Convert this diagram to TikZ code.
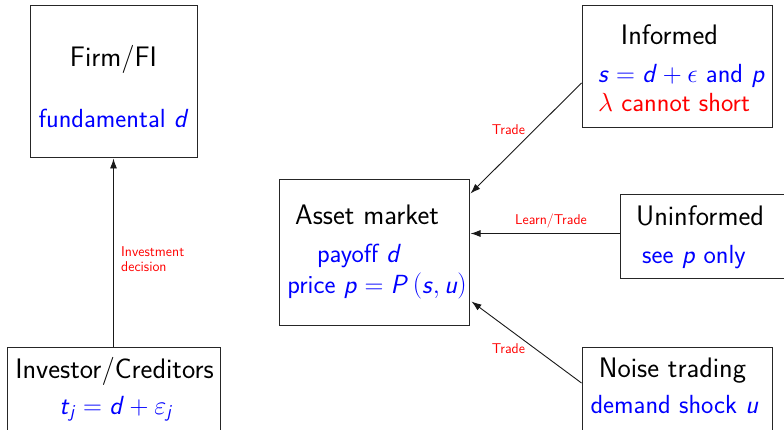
\RequirePackage{fix-cm}
\documentclass[tikz,border=0pt]{standalone}
\usepackage{amsmath}
\usepackage{fontspec}
\usetikzlibrary{arrows.meta,calc}
% sans-serif italic letters for variables
\newcommand{\sv}[1]{\textsf{\textit{#1}}}
\tikzset{
  box/.style={draw=black!85, line width=1pt, rectangle, inner sep=0pt},
  head/.style={font=\sffamily\fontsize{28.2}{32}\selectfont, anchor=base, inner sep=0pt},
  info/.style={font=\sffamily\fontsize{26.2}{30}\selectfont, text=blue, anchor=base, inner sep=0pt},
  warn/.style={info, text=red},
  tag/.style={font=\sffamily\fontsize{14.2}{15}\selectfont, text=red, inner sep=0pt},
  link/.style={draw=black!90, line width=0.9pt, -{Latex[length=10pt,width=7pt]}},
}
\begin{document}
\begin{tikzpicture}[x=1pt,y=-1pt]
\useasboundingbox (0,0) rectangle (784,430);
\clip (0,0) rectangle (784,430);

% boxes
\node[box, minimum width=167pt, minimum height=152pt] (firm) at (113.5,82) {};
\node[box, minimum width=213pt, minimum height=98pt] (inv) at (113.5,396) {};
\node[box, minimum width=190pt, minimum height=145pt] (market) at (374,252.5) {};
\node[box, minimum width=190pt, minimum height=122pt] (informed) at (677,67) {};
\node[box, minimum width=190pt, minimum height=84pt] (uninf) at (715,237) {};
\node[box, minimum width=190pt, minimum height=98pt] (noise) at (677,396) {};

% box texts
\node[head] (firmT) at (113.5,67) {Firm/FI};
\node[info] (firmD) at (113.5,128) {fundamental $\sv{d}$};

\node[head] (invT) at (114.5,378) {Investor/Creditors};
\node[info] (invD) at (116,414) {$\sv{t}_{\sv{j}}=\sv{d}+\varepsilon_{\sv{j}}$};

\node[head] (mktT) at (367,225) {Asset market};
\node[info] (mktD) at (359,263) {payoff $\sv{d}$};
\node[info] (mktP) at (377,293) {price $\sv{p}=\sv{P}\left(\sv{s},\sv{u}\right)$};

\node[head] (infT) at (669.5,45) {Informed};
\node[info, anchor=base west] (infS) at (598,83) {$\sv{s}=\sv{d}+\epsilon$ and $\sv{p}$};
\node[warn, anchor=base west] (infL) at (598,112) {$\lambda$ cannot short};

\node[head] (unT) at (700,226) {Uninformed};
\node[info] (unD) at (694,264) {see $\sv{p}$ only};

\node[head] (noT) at (672.5,377) {Noise trading};
\node[info] (noD) at (674.5,413) {demand shock $\sv{u}$};

% connectors
\draw[link] (inv.north) -- (firm.south);

\coordinate (infOut) at ($(informed.west)+(0,16)$);
\coordinate (mktIn1) at ($(market.north east)+(1,14)$);
\draw[link] (infOut) -- (mktIn1);

\coordinate (unOut) at ($(uninf.west)+(0,-3.5)$);
\coordinate (mktIn2) at ($(market.east)+(1,-19)$);
\draw[link] (unOut) -- (mktIn2);

\coordinate (noOut) at ($(noise.west)+(0,-13)$);
\coordinate (mktIn3) at ($(market.south east)+(2,-24)$);
\draw[link] (noOut) -- (mktIn3);

% connector labels
\node[tag, anchor=base west, align=left] (tagInv) at (121,272) {Investment\\decision};
\node[tag, anchor=base] (tagInf) at (508.5,135) {Trade};
\node[tag, anchor=base] (tagUn) at (551,225) {Learn/Trade};
\node[tag, anchor=base] (tagNo) at (508.5,353) {Trade};
\end{tikzpicture}
\end{document}
